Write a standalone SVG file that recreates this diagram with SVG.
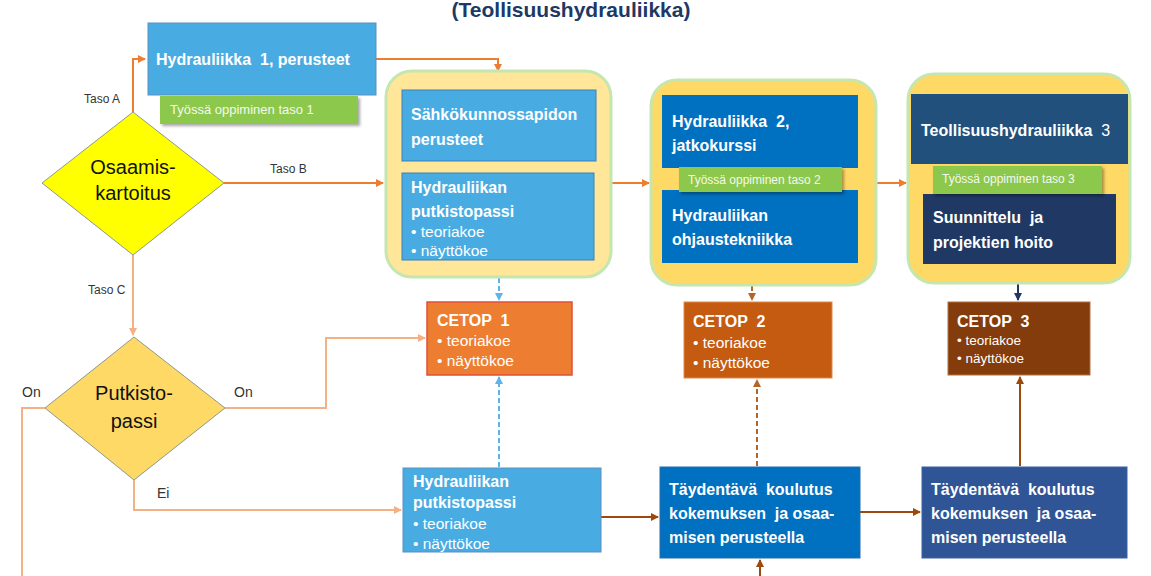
<svg xmlns="http://www.w3.org/2000/svg" width="1151" height="576" viewBox="0 0 1151 576">
<defs>
<style>
.t{font-family:"Liberation Sans",Arial,sans-serif;white-space:pre;}
.wb{fill:#fff;font-weight:bold;font-size:16px;}
.wr{fill:#fff;font-size:15.5px;}
.gl{fill:#f4f9ee;}
.lbl{fill:#333;font-size:12px;}
.dia{fill:#111;font-size:20px;}
.cont{stroke:#c6e6b0;stroke-width:3;}
.ln{fill:none;stroke-width:2;}
.or{stroke:#ed7d31;}
.lo{stroke:#f4b183;}
.br{stroke:#9e480e;}
.bl{stroke:#5bb4ea;stroke-dasharray:5,3;}
.bd{stroke:#b5652a;stroke-dasharray:5,3;}
.nv{stroke:#1f3864;}
</style>
<marker id="mOr" markerWidth="8" markerHeight="8" refX="7" refY="4" orient="auto" markerUnits="userSpaceOnUse"><path d="M0,0 L8,4 L0,8 Z" fill="#ed7d31"/></marker>
<marker id="mLo" markerWidth="8" markerHeight="8" refX="7" refY="4" orient="auto" markerUnits="userSpaceOnUse"><path d="M0,0 L8,4 L0,8 Z" fill="#f4b183"/></marker>
<marker id="mBr" markerWidth="8" markerHeight="8" refX="7" refY="4" orient="auto" markerUnits="userSpaceOnUse"><path d="M0,0 L8,4 L0,8 Z" fill="#9e480e"/></marker>
<marker id="mBd" markerWidth="8" markerHeight="8" refX="7" refY="4" orient="auto" markerUnits="userSpaceOnUse"><path d="M0,0 L8,4 L0,8 Z" fill="#b5652a"/></marker>
<marker id="mBl" markerWidth="8" markerHeight="8" refX="7" refY="4" orient="auto" markerUnits="userSpaceOnUse"><path d="M0,0 L8,4 L0,8 Z" fill="#5bb4ea"/></marker>
<marker id="mNv" markerWidth="8" markerHeight="8" refX="7" refY="4" orient="auto" markerUnits="userSpaceOnUse"><path d="M0,0 L8,4 L0,8 Z" fill="#1f3864"/></marker>
<filter id="sh" x="-10%" y="-20%" width="130%" height="160%"><feDropShadow dx="2" dy="2" stdDeviation="1.5" flood-color="#000" flood-opacity="0.35"/></filter>
</defs>
<rect width="1151" height="576" fill="#fff"/>

<text class="t" x="571" y="17" text-anchor="middle" font-size="21" font-weight="bold" fill="#203864">(Teollisuushydrauliikka)</text>

<g id="connectors">
<path class="ln or" d="M133,112 V59 H145" marker-end="url(#mOr)"/>
<path class="ln or" d="M376,59 H498 V71" marker-end="url(#mOr)"/>
<path class="ln or" d="M224,183 H383" marker-end="url(#mOr)"/>
<path class="ln lo" d="M133,255 V335" marker-end="url(#mLo)"/>
<path class="ln or" d="M611,183 H649" marker-end="url(#mOr)"/>
<path class="ln or" d="M876,183 H906" marker-end="url(#mOr)"/>
<path class="ln bl" d="M499,278 V300" marker-end="url(#mBl)"/>
<path class="ln bd" d="M752,286 V300" marker-end="url(#mBd)"/>
<path class="ln nv" d="M1018,284 V300" marker-end="url(#mNv)"/>
<path class="ln lo" d="M225,408 H326 V338 H425" marker-end="url(#mLo)"/>
<path class="ln lo" d="M45,408 H22 V576"/>
<path class="ln lo" d="M134,480 V510 H401" marker-end="url(#mLo)"/>
<path class="ln bl" d="M499,467 V377" marker-end="url(#mBl)"/>
<path class="ln br" d="M601,517 H658" marker-end="url(#mBr)"/>
<path class="ln bd" d="M757,466 V380" marker-end="url(#mBd)"/>
<path class="ln br" d="M760,576 V560" marker-end="url(#mBr)"/>
<path class="ln br" d="M860,512 H920" marker-end="url(#mBr)"/>
<path class="ln br" d="M1020,466 V377" marker-end="url(#mBr)"/>
<text class="t lbl" x="84" y="103">Taso A</text>
<text class="t lbl" x="270" y="173">Taso B</text>
<text class="t lbl" x="88" y="294">Taso C</text>
<text class="t" x="234" y="397" font-size="14" fill="#333">On</text>
<text class="t" x="22" y="397" font-size="14" fill="#333">On</text>
<text class="t" x="157" y="498" font-size="14" fill="#333">Ei</text>
</g>

<g id="osaamiskartoitus">
<polygon points="42,183 133,112 224,183 133,255" fill="#ffff00" stroke="#8c9a8c" stroke-width="1"/>
<text class="t dia" x="133" y="174" text-anchor="middle">Osaamis-</text>
<text class="t dia" x="133" y="200" text-anchor="middle">kartoitus</text>
</g>

<g id="hydrauliikka1">
<rect x="148" y="23" width="228" height="72" fill="#48ace3" stroke="#5a8fc0" stroke-width="1"/>
<text class="t wb" x="156" y="65">Hydrauliikka  1, perusteet</text>
<rect x="160" y="96" width="198" height="28" fill="#8cc84c" filter="url(#sh)"/>
<text class="t gl" x="170" y="114" style="font-size:13px">Työssä oppiminen taso 1</text>
</g>

<g id="taso1">
<rect class="cont" x="386" y="71" width="225" height="206" rx="26" fill="#ffe699"/>
<rect x="402" y="90" width="194" height="71" fill="#48ace3" stroke="#3d7fb8" stroke-width="1"/>
<text class="t wb" x="411" y="120">Sähkökunnossapidon</text>
<text class="t wb" x="411" y="145">perusteet</text>
<rect x="402" y="173" width="192" height="87" fill="#48ace3" stroke="#3d7fb8" stroke-width="1"/>
<text class="t wb" x="411" y="193">Hydrauliikan</text>
<text class="t wb" x="411" y="217">putkistopassi</text>
<text class="t wr" x="411" y="237">• teoriakoe</text>
<text class="t wr" x="411" y="256">• näyttökoe</text>
</g>

<g id="taso2">
<rect class="cont" x="651" y="80" width="225" height="205" rx="26" fill="#ffd966"/>
<rect x="662" y="95" width="196" height="73" fill="#0070c0"/>
<text class="t wb" x="672" y="127">Hydrauliikka  2,</text>
<text class="t wb" x="672" y="151">jatkokurssi</text>
<rect x="662" y="190" width="196" height="73" fill="#0070c0"/>
<text class="t wb" x="672" y="221">Hydrauliikan</text>
<text class="t wb" x="672" y="245">ohjaustekniikka</text>
<rect x="679" y="167" width="163" height="25" fill="#8cc84c" filter="url(#sh)"/>
<text class="t gl" x="688" y="184" style="font-size:12px">Työssä oppiminen taso 2</text>
</g>

<g id="taso3">
<rect class="cont" x="908" y="74" width="222" height="209" rx="26" fill="#ffd966"/>
<rect x="911" y="94" width="217" height="70" fill="#22507c"/>
<text class="t wb" x="921" y="136">Teollisuushydrauliikka  <tspan style="font-weight:normal">3</tspan></text>
<rect x="923" y="194" width="193" height="70" fill="#1f3864"/>
<text class="t wb" x="933" y="223">Suunnittelu  ja</text>
<text class="t wb" x="933" y="248">projektien hoito</text>
<rect x="933" y="166" width="169" height="28" fill="#8cc84c" filter="url(#sh)"/>
<text class="t gl" x="942" y="183" style="font-size:12px">Työssä oppiminen taso 3</text>
</g>

<g id="cetop1">
<rect x="427" y="302" width="145" height="73" fill="#ed7d31" stroke="#e0503a" stroke-width="1.5"/>
<text class="t wb" x="437" y="326">CETOP  1</text>
<text class="t wr" x="437" y="346">• teoriakoe</text>
<text class="t wr" x="437" y="366">• näyttökoe</text>
</g>

<g id="cetop2">
<rect x="684" y="302" width="148" height="76" fill="#c55a11" stroke="#e08a4a" stroke-width="1"/>
<text class="t wb" x="693" y="327">CETOP  2</text>
<text class="t wr" x="693" y="348">• teoriakoe</text>
<text class="t wr" x="693" y="368">• näyttökoe</text>
</g>

<g id="cetop3">
<rect x="948" y="302" width="142" height="73" fill="#843c0c" stroke="#b07040" stroke-width="1"/>
<text class="t wb" x="957" y="327">CETOP  3</text>
<text class="t wr" x="957" y="345" style="font-size:13.5px">• teoriakoe</text>
<text class="t wr" x="957" y="363" style="font-size:13.5px">• näyttökoe</text>
</g>

<g id="putkistopassi-dia">
<polygon points="45,408 134,337 225,408 134,480" fill="#ffd966" stroke="#8c9a8c" stroke-width="1"/>
<text class="t dia" x="134" y="400" text-anchor="middle">Putkisto-</text>
<text class="t dia" x="134" y="428" text-anchor="middle">passi</text>
</g>

<g id="putkistopassi-box">
<rect x="403" y="468" width="198" height="84" fill="#48ace3" stroke="#5a8fc0" stroke-width="1"/>
<text class="t wb" x="413" y="487">Hydrauliikan</text>
<text class="t wb" x="413" y="508">putkistopassi</text>
<text class="t wr" x="413" y="529">• teoriakoe</text>
<text class="t wr" x="413" y="549">• näyttökoe</text>
</g>

<g id="taydentava1">
<rect x="660" y="467" width="200" height="91" fill="#0070c0" stroke="#2a6aa8" stroke-width="1"/>
<text class="t wb" x="669" y="495">Täydentävä  koulutus</text>
<text class="t wb" x="669" y="519">kokemuksen  ja osaa-</text>
<text class="t wb" x="669" y="543">misen perusteella</text>
</g>

<g id="taydentava2">
<rect x="922" y="467" width="205" height="91" fill="#2f5597" stroke="#3a62a0" stroke-width="1"/>
<text class="t wb" x="931" y="495">Täydentävä  koulutus</text>
<text class="t wb" x="931" y="519">kokemuksen  ja osaa-</text>
<text class="t wb" x="931" y="543">misen perusteella</text>
</g>
</svg>
